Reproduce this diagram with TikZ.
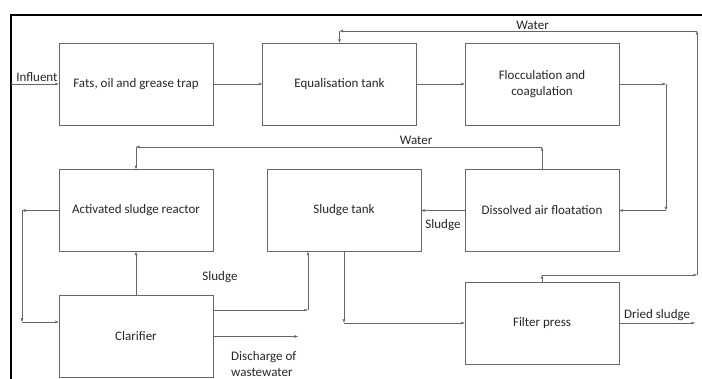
\documentclass[tikz,border=0pt]{standalone}
\usepackage{fontspec}
\setmainfont{Carlito}
\usetikzlibrary{arrows.meta}
\begin{document}
\begin{tikzpicture}[x=1pt, y=1pt,
    unit/.style={rectangle, draw=black!60, thin, minimum width=154pt, minimum height=82pt, align=center, font=\fontsize{13}{16}\selectfont, text=black!85},
    arrow/.style={-{Latex[length=3.5pt,width=3pt]}, draw=black!60, thin},
    lbl/.style={font=\fontsize{13}{16}\selectfont, text=black!85, align=left}
]
\useasboundingbox (0,0) rectangle (702,379);

% Frame
\draw[line width=1.6pt] (11,0) -- (11,364) -- (702,364);

% Process units
\node[unit] (trap) at (136,295) {Fats, oil and grease trap};
\node[unit] (equal) at (339.5,295) {Equalisation tank};
\node[unit] (floc) at (542,295) {Flocculation and\\coagulation};
\node[unit] (asr) at (136,168.5) {Activated sludge reactor};
\node[unit] (stank) at (344,168.5) {Sludge tank};
\node[unit] (daf) at (542,168.5) {Dissolved air floatation};
\node[unit] (clar) at (136,42.5) {Clarifier};
\node[unit] (fpress) at (542,56) {Filter press};

% Influent
\coordinate (inlet) at (11,295);
\draw[arrow] (inlet) -- (trap.west) node[lbl, midway, above, inner sep=2pt, xshift=2pt] {Influent};
\draw[arrow] (trap) -- (equal);
\draw[arrow] (equal) -- (floc);

% Flocculation to DAF
\coordinate (f1) at (666,295);
\coordinate (f2) at (666,168.5);
\draw[arrow] (floc.east) -- (f1);
\draw[arrow] (f1) -- (f2);
\draw[arrow] (f2) -- (daf.east);

% Water back to equalisation
\coordinate (w1) at (542,104);
\coordinate (w2) at (697,104);
\coordinate (w3) at (697,348);
\coordinate (w4) at (339.5,348);
\draw[arrow] (fpress.north) -- (w1);
\draw[arrow] (w1) -- (w2);
\draw[arrow] (w2) -- (w3);
\draw[arrow] (w3) -- (w4) node[lbl, pos=0.46, above, inner sep=1pt] {Water};
\draw[arrow] (w4) -- (equal.north);

% Water back to reactor
\coordinate (v1) at (542,232);
\coordinate (v2) at (136,232);
\draw[arrow] (daf.north) -- (v1);
\draw[arrow] (v1) -- (v2) node[lbl, pos=0.31, above, inner sep=2pt] {Water};
\draw[arrow] (v2) -- (asr.north);

% Sludge from DAF
\draw[arrow] (daf.west) -- (stank.east) node[lbl, midway, below, inner sep=5pt, yshift=-4pt] {Sludge};

% Recycle loop
\coordinate (r1) at (22,168.5);
\coordinate (r2) at (22,57);
\draw[arrow] (asr.west) -- (r1);
\draw[arrow] (r1) -- (r2);
\draw[arrow] (r2) -- (r2 -| clar.west);

% Clarifier to reactor
\draw[arrow] (clar.north) -- (asr.south);

% Sludge to sludge tank
\coordinate (s2) at (308,69);
\draw[arrow] ([yshift=26.5]clar.east) -- (s2);
\draw[arrow] (s2) -- (s2 |- stank.south);
\node[lbl] (sludgelbl) at (220,102) {Sludge};

% Discharge
\coordinate (dis) at (298,42.5);
\draw[arrow] (clar.east) -- (dis);
\node[lbl, anchor=west, inner sep=0pt] (dislbl) at (231,15) {Discharge of\\wastewater};

% Sludge tank to filter press
\coordinate (t1) at (344,56);
\draw[arrow] (stank.south) -- (t1);
\draw[arrow] (t1) -- (fpress.west);

% Dried sludge
\coordinate (out) at (695,56);
\draw[arrow] (fpress.east) -- (out) node[lbl, midway, above, inner sep=2pt] {Dried sludge};

\end{tikzpicture}
\end{document}
